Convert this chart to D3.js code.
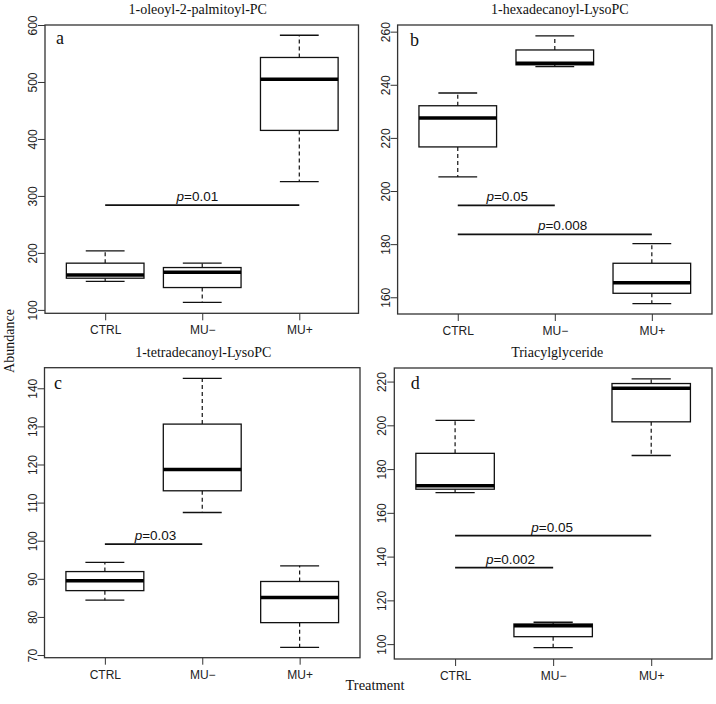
<!DOCTYPE html>
<html>
<head>
<meta charset="utf-8">
<script src="https://cdn.jsdelivr.net/npm/d3@7"></script>
<style>
  html, body { margin: 0; padding: 0; background: #fff; }
  svg { display: block; }
</style>
</head>
<body>
<svg id="chart" width="716" height="704"></svg>
<script>
// ---------------- DATA ----------------
const categories = ["CTRL", "MU\u2212", "MU+"];
const titles = ["1-oleoyl-2-palmitoyl-PC", "1-hexadecanoyl-LysoPC", "1-tetradecanoyl-LysoPC", "Triacylglyceride"];
const letters = ["a", "b", "c", "d"];

// box stats per group: [lower whisker, Q1, median, Q3, upper whisker]
const statsA = [[150, 155.6, 161.4, 182, 203.5], [113, 139.2, 166, 174.3, 182], [325, 415, 505, 543, 582]];
const statsB = [[205.3, 216.6, 227.5, 232.1, 236.9], [246.8, 247.5, 248.1, 253.1, 258.4], [157.6, 161.5, 165.5, 172.8, 180.2]];
const statsC = [[84.4, 86.9, 89.5, 91.9, 94.3], [107.4, 113.1, 118.7, 130.6, 142.6], [72.0, 78.5, 85.1, 89.3, 93.4]];
const statsD = [[169.2, 170.8, 172.4, 187.2, 202.3], [98.4, 103.4, 108.4, 109.2, 110.0], [186.2, 201.6, 217.0, 219.1, 221.2]];

const yTicksA = [100, 200, 300, 400, 500, 600];
const yTicksB = [160, 180, 200, 220, 240, 260];
const yTicksC = [70, 80, 90, 100, 110, 120, 130, 140];
const yTicksD = [100, 120, 140, 160, 180, 200, 220];

// significance bars: from group index, to group index, value level, label, label x (in group units)
const sigA = [{ from: 0, to: 2, y: 284, label: "0.01", tx: 1.95 }];
const sigB = [{ from: 0, to: 1, y: 194.6, label: "0.05", tx: 1.51 }, { from: 0, to: 2, y: 183.7, label: "0.008", tx: 2.08 }];
const sigC = [{ from: 0, to: 1, y: 99.1, label: "0.03", tx: 1.52 }];
const sigD = [{ from: 0, to: 2, y: 149.6, label: "0.05", tx: 1.99 }, { from: 0, to: 1, y: 135, label: "0.002", tx: 1.565 }];

const yLabel = "Abundance";
const xLabel = "Treatment";

// ---------------- LAYOUT ----------------
const panels = [
  { stats: statsA, ticks: yTicksA, sig: sigA, yDom: [94, 600], x0: 45, x1: 358.5, xDom: [0.38, 3.61], top: 25, bottom: 313.3, titleDx: -4, letterDx: 11, letterDy: 19 },
  { stats: statsB, ticks: yTicksB, sig: sigB, yDom: [153.7, 262.5], x0: 397.6, x1: 712, xDom: [0.38, 3.62], top: 25, bottom: 314, titleDx: 5, letterDx: 12.5, letterDy: 21 },
  { stats: statsC, ticks: yTicksC, sig: sigC, yDom: [69.3, 145.4], x0: 44.5, x1: 360, xDom: [0.38, 3.62], top: 367.7, bottom: 657.7, titleDx: 1, letterDx: 9.5, letterDy: 21.5 },
  { stats: statsD, ticks: yTicksD, sig: sigD, yDom: [93.2, 226.2], x0: 394.3, x1: 712, xDom: [0.38, 3.62], top: 368, bottom: 659, titleDx: 4, letterDx: 16.5, letterDy: 21.3 }
];

const SANS = "'Liberation Sans', Arial, sans-serif";
const SERIF = "'Liberation Serif', 'Times New Roman', serif";
const svg = d3.select("#chart");

panels.forEach((p, i) => {
  const g = svg.append("g");
  const x = d3.scaleLinear().domain(p.xDom).range([p.x0, p.x1]);
  const y = d3.scaleLinear().domain(p.yDom).range([p.bottom, p.top]);
  const step = x(2) - x(1);
  const bw = 0.8 * step;
  const cw = 0.4 * step;

  // y axis ticks
  const yAx = g.append("g").attr("transform", `translate(${p.x0},0)`)
    .call(d3.axisLeft(y).tickValues(p.ticks).tickSize(7).tickSizeOuter(0).tickPadding(0).tickFormat(d3.format("d")));
  yAx.select(".domain").remove();
  yAx.selectAll(".tick line").attr("stroke", "#333").attr("stroke-width", 1);
  yAx.selectAll(".tick text")
    .attr("x", null).attr("dy", null)
    .attr("transform", "translate(-8,0) rotate(-90)")
    .attr("text-anchor", "middle")
    .attr("fill", "#222")
    .style("font-family", SANS).style("font-size", "12px");

  // x axis ticks
  const xAx = g.append("g").attr("transform", `translate(0,${p.bottom})`)
    .call(d3.axisBottom(x).tickValues([1, 2, 3]).tickSize(7).tickSizeOuter(0).tickPadding(0).tickFormat(d => categories[d - 1]));
  xAx.select(".domain").remove();
  xAx.selectAll(".tick line").attr("stroke", "#333").attr("stroke-width", 1);
  xAx.selectAll(".tick text")
    .attr("y", 21).attr("dy", null)
    .attr("fill", "#222")
    .style("font-family", SANS).style("font-size", "12px");

  // boxes
  p.stats.forEach((s, j) => {
    const cx = x(j + 1);
    const [lo, q1, med, q3, hi] = s;
    // whiskers (dashed)
    g.append("line").attr("x1", cx).attr("x2", cx).attr("y1", y(q3)).attr("y2", y(hi))
      .attr("stroke", "#111").attr("stroke-width", 1.2).attr("stroke-dasharray", "4,3");
    g.append("line").attr("x1", cx).attr("x2", cx).attr("y1", y(q1)).attr("y2", y(lo))
      .attr("stroke", "#111").attr("stroke-width", 1.2).attr("stroke-dasharray", "4,3");
    // caps
    [lo, hi].forEach(v => {
      g.append("line").attr("x1", cx - cw / 2).attr("x2", cx + cw / 2).attr("y1", y(v)).attr("y2", y(v))
        .attr("stroke", "#111").attr("stroke-width", 1.3);
    });
    // box
    g.append("rect").attr("x", cx - bw / 2).attr("width", bw)
      .attr("y", y(q3)).attr("height", y(q1) - y(q3))
      .attr("fill", "#fff").attr("stroke", "#111").attr("stroke-width", 1.3);
    // median
    g.append("line").attr("x1", cx - bw / 2).attr("x2", cx + bw / 2).attr("y1", y(med)).attr("y2", y(med))
      .attr("stroke", "#000").attr("stroke-width", 3.5);
  });

  // significance bars
  p.sig.forEach(sg => {
    g.append("line").attr("x1", x(sg.from + 1)).attr("x2", x(sg.to + 1))
      .attr("y1", y(sg.y)).attr("y2", y(sg.y))
      .attr("stroke", "#111").attr("stroke-width", 1.8);
    const t = g.append("text").attr("x", x(sg.tx)).attr("y", y(sg.y) - 4)
      .attr("text-anchor", "middle").attr("fill", "#111")
      .style("font-family", SANS).style("font-size", "13.5px");
    t.append("tspan").style("font-style", "italic").text("p");
    t.append("tspan").text("=" + sg.label);
  });

  // frame
  g.append("rect").attr("x", p.x0).attr("y", p.top)
    .attr("width", p.x1 - p.x0).attr("height", p.bottom - p.top)
    .attr("fill", "none").attr("stroke", "#333").attr("stroke-width", 1.3);

  // title
  g.append("text").attr("x", (p.x0 + p.x1) / 2 + p.titleDx).attr("y", p.top - 11)
    .attr("text-anchor", "middle").attr("fill", "#111")
    .style("font-family", SERIF).style("font-size", "14px")
    .text(titles[i]);

  // panel letter
  g.append("text").attr("x", p.x0 + p.letterDx).attr("y", p.top + p.letterDy)
    .attr("fill", "#111")
    .style("font-family", SERIF).style("font-size", "18px")
    .text(letters[i]);
});

// axis labels
svg.append("text").attr("transform", "translate(13.5,341) rotate(-90)")
  .attr("text-anchor", "middle").attr("fill", "#111")
  .style("font-family", SERIF).style("font-size", "14px")
  .text(yLabel);
svg.append("text").attr("x", 375).attr("y", 690)
  .attr("text-anchor", "middle").attr("fill", "#111")
  .style("font-family", SERIF).style("font-size", "14.5px")
  .text(xLabel);
</script>
</body>
</html>
